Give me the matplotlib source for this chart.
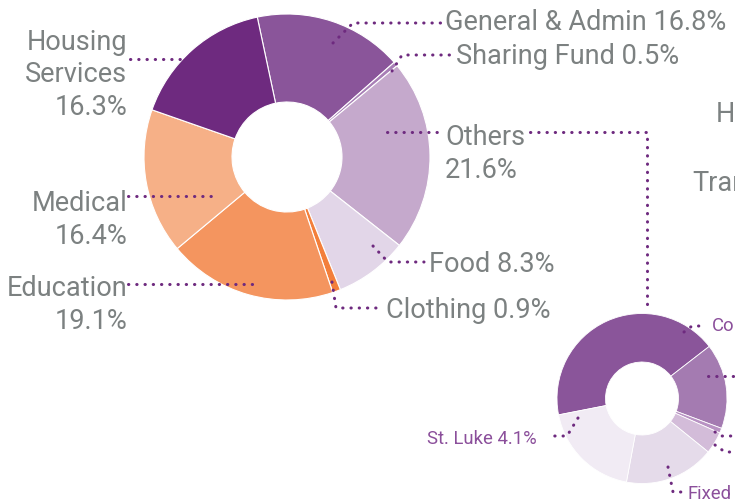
import matplotlib.pyplot as plt
from matplotlib import font_manager

# main donut (total spending), clockwise from General & Admin
main_labels = ["General & Admin", "Sharing Fund", "Others", "Food", "Clothing",
               "Education", "Medical", "Housing Services"]
main_values = [16.8, 0.5, 21.6, 8.3, 0.9, 19.1, 16.4, 16.3]
main_colors = ["#8a559a", "#a87fb6", "#c5a9cc", "#e2d6e8", "#f37f3b",
               "#f4955f", "#f6b087", "#6e2a7f"]

# breakdown of "Others"
other_labels = ["Co", "Programs", "Other", "Misc", "Fixed", "St. Luke"]
other_values = [9.2, 3.5, 0.2, 0.9, 3.7, 4.1]
other_colors = ["#8a559a", "#a47bb1", "#b892c3", "#d3bcd9", "#e5dbea", "#f1ebf4"]

W, H = 735, 502
GRAY = "#7c8181"
PURPLE = "#6e2a7f"
LABEL_PURPLE = "#8b4f9b"

names = {f.name for f in font_manager.fontManager.ttflist}
FONT = "Roboto" if "Roboto" in names else "DejaVu Sans"


def dotted(ax, xs, ys):
    ax.plot(xs, ys, color=PURPLE, lw=2.2, linestyle=(0, (0.1, 2.6)),
            dash_capstyle="round", solid_capstyle="round")


fig = plt.figure(figsize=(W / 100, H / 100), dpi=100)
ax = fig.add_axes([0, 0, 1, 1])

# y axis points down (pixel-like), so screen-clockwise = data-counterclockwise
ax.pie(main_values, colors=main_colors, center=(287, 158), radius=143,
       startangle=-102, counterclock=True,
       wedgeprops=dict(width=88, edgecolor="white", linewidth=0.8))
ax.pie(other_values, colors=other_colors, center=(642, 399.5), radius=85,
       startangle=-191.1, counterclock=True,
       wedgeprops=dict(width=48.5, edgecolor="white", linewidth=0.6))

ax.set_xlim(0, W)
ax.set_ylim(H, 0)
ax.set_aspect("equal")
ax.axis("off")

big = dict(fontsize=19.5, color=GRAY, family=FONT, fontweight="normal")
LS = 1.32

# leader lines for main donut
dotted(ax, [130, 181], [60, 60])                       # Housing
dotted(ax, [333, 353, 442], [44, 24, 24])              # General
dotted(ax, [392, 402, 450], [72, 56, 56])              # Sharing
dotted(ax, [387, 440], [133, 133])                     # Others
dotted(ax, [530, 647, 647], [133, 133, 307])           # Others -> breakdown
dotted(ax, [373, 388, 424], [247, 263, 263])           # Food
dotted(ax, [332, 336, 383], [283, 309, 309])           # Clothing
dotted(ax, [128, 213], [197, 197])                     # Medical
dotted(ax, [128, 257], [285, 285])                     # Education

ax.text(127, 75, "Housing\nServices\n16.3%", ha="right", va="center",
        linespacing=LS - 0.08, **big)
ax.text(445, 23, f"{main_labels[0]} {main_values[0]}%", ha="left", va="center", **big)
ax.text(456, 56, f"{main_labels[1]} {main_values[1]}%", ha="left", va="center", **big)
ax.text(445, 154, f"{main_labels[2]}\n{main_values[2]}%", ha="left", va="center",
        linespacing=LS, **big)
ax.text(429, 265, f"{main_labels[3]} {main_values[3]}%", ha="left", va="center", **big)
ax.text(386, 311, f"{main_labels[4]} {main_values[4]}%", ha="left", va="center", **big)
ax.text(127, 220, f"{main_labels[6]}\n{main_values[6]}%", ha="right", va="center",
        linespacing=LS, **big)
ax.text(127, 305, f"{main_labels[5]}\n{main_values[5]}%", ha="right", va="center",
        linespacing=LS, **big)

# labels of a neighbouring chart, only partly inside the picture
ax.text(716, 114, "H", ha="left", va="center", **big)
ax.text(692, 184, "Tran", ha="left", va="center", **big)

# leader lines and labels for the breakdown donut
small = dict(fontsize=13.3, color=LABEL_PURPLE, family=FONT, fontweight="normal")
dotted(ax, [684, 692, 706], [333, 327, 327])
dotted(ax, [708, 740], [377, 377])
dotted(ax, [715, 722, 740], [433, 437, 437])
dotted(ax, [715, 725, 740], [446, 453, 453])
dotted(ax, [668, 673, 686], [468, 493, 493])
dotted(ax, [578, 567, 548], [419, 437, 437])

ax.text(712, 326, other_labels[0], ha="left", va="center", **small)
ax.text(688, 494, other_labels[4], ha="left", va="center", **small)
ax.text(537, 439, f"{other_labels[5]} {other_values[5]}%", ha="right", va="center", **small)

fig.savefig("out.png", dpi=100)
